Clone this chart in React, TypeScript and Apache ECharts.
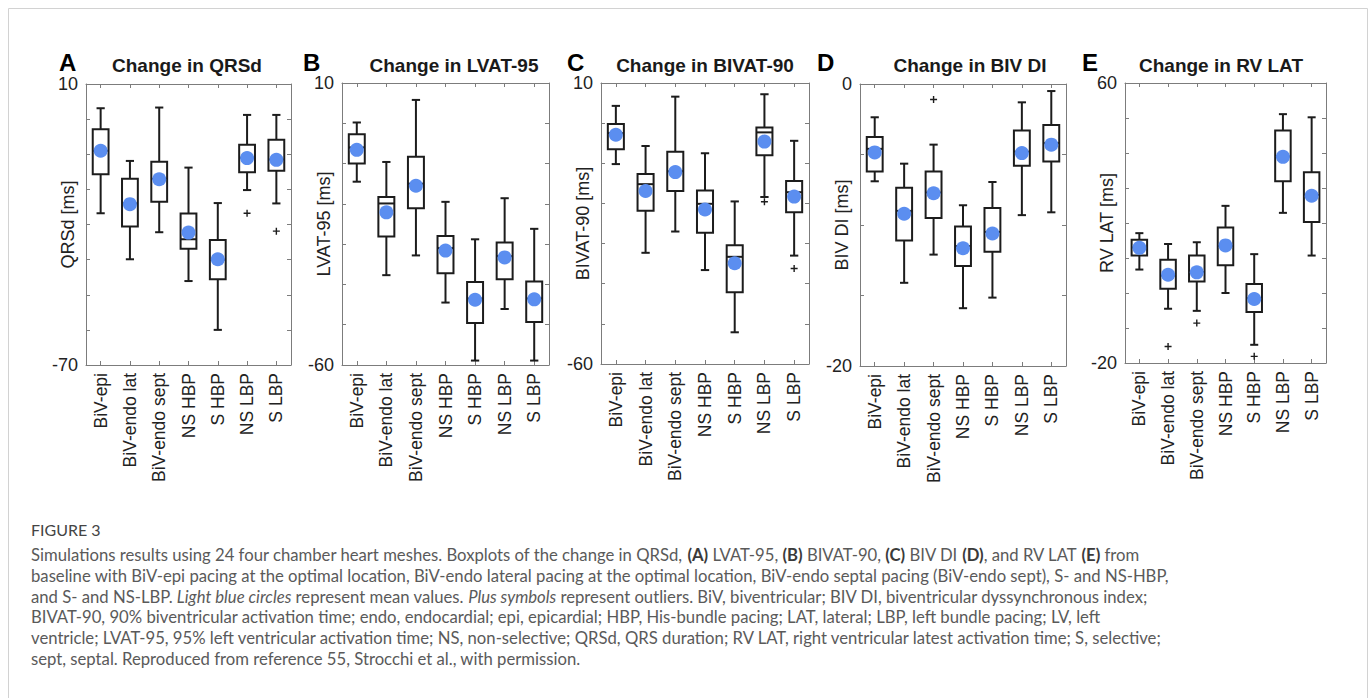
import React, { useEffect, useRef } from "react";
import * as echarts from "echarts";

// ---------------- DATA ----------------
const categories = ["BiV-epi", "BiV-endo lat", "BiV-endo sept", "NS HBP", "S HBP", "NS LBP", "S LBP"];

// each entry: [whisker low, Q1, median, Q3, whisker high]
const qrsdBox = [
  [-26.8, -15.7, -9.0, -2.9, 3.1],
  [-39.9, -30.6, -24.0, -17.0, -11.9],
  [-32.2, -23.5, -17.0, -12.1, 3.3],
  [-46.1, -36.9, -34.2, -26.9, -13.8],
  [-60.0, -45.6, -40.0, -34.4, -23.9],
  [-20.2, -15.1, -11.0, -7.3, 1.2],
  [-24.0, -14.7, -11.5, -5.9, 1.2],
];
const qrsdMean = [-9.0, -24.2, -17.1, -32.3, -39.9, -11.1, -11.6];
const qrsdOutliers = [[5, -26.8], [6, -31.9]];

const lvatBox = [
  [-14.5, -10.0, -6.0, -2.7, 0.2],
  [-37.7, -28.1, -19.9, -18.3, -9.6],
  [-32.8, -21.1, -15.0, -8.3, 5.8],
  [-44.5, -37.2, -31.0, -28.0, -19.5],
  [-58.9, -49.6, -43.5, -39.4, -28.8],
  [-46.1, -38.7, -33.0, -29.6, -18.6],
  [-58.9, -49.3, -43.5, -39.3, -26.2],
];
const lvatMean = [-6.6, -22.1, -15.5, -31.6, -43.8, -33.3, -43.7];
const lvatOutliers: number[][] = [];

const bivatBox = [
  [-10.2, -6.5, -2.5, -0.2, 4.3],
  [-32.3, -21.8, -15.2, -12.7, -5.7],
  [-27.0, -16.9, -12.0, -7.1, 6.6],
  [-36.6, -27.3, -20.1, -16.8, -7.5],
  [-52.1, -42.1, -33.3, -30.4, -19.5],
  [-18.4, -8.0, -2.3, -1.1, 7.2],
  [-33.0, -22.2, -17.2, -14.4, -4.4],
];
const bivatMean = [-2.9, -16.9, -12.2, -21.5, -34.9, -4.6, -18.3];
const bivatOutliers = [[5, -19.6], [6, -36.2]];

const bivdiBox = [
  [-6.9, -6.2, -4.6, -3.76, -2.36],
  [-14.1, -11.1, -9.0, -7.35, -5.65],
  [-12.1, -9.5, -7.7, -6.2, -4.3],
  [-15.9, -12.9, -11.5, -10.1, -8.6],
  [-15.15, -11.9, -10.5, -8.8, -6.95],
  [-9.3, -5.8, -4.8, -3.3, -1.3],
  [-9.1, -5.5, -4.2, -2.9, -0.5],
];
const bivdiMean = [-4.85, -9.2, -7.75, -11.65, -10.6, -4.9, -4.3];
const bivdiOutliers = [[2, -1.1]];

const rvlatBox = [
  [6.7, 10.7, 13.0, 15.2, 17.1],
  [-4.5, 1.2, 5.0, 9.5, 14.0],
  [-5.1, 3.3, 6.0, 10.7, 14.5],
  [0.0, 7.9, 13.5, 18.7, 24.9],
  [-14.8, -5.4, -1.5, 2.6, 11.1],
  [22.9, 31.9, 39.0, 46.4, 51.1],
  [10.7, 20.3, 28.0, 34.5, 50.2],
];
const rvlatMean = [12.9, 5.2, 5.9, 13.6, -1.7, 38.9, 27.8];
const rvlatOutliers = [[1, -15.3], [2, -8.6], [4, -18.1]];

const letters = ["A", "B", "C", "D", "E"];
const titles = ["Change in QRSd", "Change in LVAT-95", "Change in BIVAT-90", "Change in BIV DI", "Change in RV LAT"];
const yNames = ["QRSd [ms]", "LVAT-95 [ms]", "BIVAT-90 [ms]", "BIV DI [ms]", "RV LAT [ms]"];
const yMins = [-70, -60, -60, -20, -20];
const yMaxs = [10, 10, 10, 0, 60];
const yIntervals = [10, 10, 10, 5, 10];
const boxes = [qrsdBox, lvatBox, bivatBox, bivdiBox, rvlatBox];
const means = [qrsdMean, lvatMean, bivatMean, bivdiMean, rvlatMean];
const outliers = [qrsdOutliers, lvatOutliers, bivatOutliers, bivdiOutliers, rvlatOutliers];

const captionHeading = "FIGURE 3";
const captionLines = [
  "Simulations results using 24 four chamber heart meshes. Boxplots of the change in QRSd, {b|(A)} LVAT-95, {b|(B)} BIVAT-90, {b|(C)} BIV DI {b|(D)}, and RV LAT {b|(E)} from",
  "baseline with BiV-epi pacing at the optimal location, BiV-endo lateral pacing at the optimal location, BiV-endo septal pacing (BiV-endo sept), S- and NS-HBP,",
  "and S- and NS-LBP. {i|Light blue circles} represent mean values. {i|Plus symbols} represent outliers. BiV, biventricular; BIV DI, biventricular dyssynchronous index;",
  "BIVAT-90, 90% biventricular activation time; endo, endocardial; epi, epicardial; HBP, His-bundle pacing; LAT, lateral; LBP, left bundle pacing; LV, left",
  "ventricle; LVAT-95, 95% left ventricular activation time; NS, non-selective; QRSd, QRS duration; RV LAT, right ventricular latest activation time; S, selective;",
  "sept, septal. Reproduced from reference 55, Strocchi et al., with permission.",
];

// ---------------- LAYOUT ----------------
const gridRects = [
  [86, 84, 205, 281],
  [342, 83, 207, 282],
  [601, 83, 208, 281],
  [860, 84, 206, 282],
  [1125, 83, 201, 280],
];
const letterPos = [[59, 62], [303, 62], [567, 62], [817, 62], [1082, 62]];
const titleCenters = [187, 454, 705, 970, 1221];

const FONT = "'Liberation Sans', Arial, Helvetica, sans-serif";
const CAP_FONT = "Lato, 'Open Sans', sans-serif";
const AXIS_GRAY = "#7c7c7c";
const INK = "#1c1c1c";
const MEAN_BLUE = "#5b8ef0";
const PLUS = "path://M-0.6,-3H0.6V-0.6H3V0.6H0.6V3H-0.6V0.6H-3V-0.6H-0.6Z";

const renderBox = (params: any, api: any) => {
  const k = api.value(0);
  const lo = api.coord([k, api.value(1)]);
  const q1 = api.coord([k, api.value(2)]);
  const md = api.coord([k, api.value(3)]);
  const q3 = api.coord([k, api.value(4)]);
  const hi = api.coord([k, api.value(5)]);
  const band = api.size([1, 0])[0];
  const bw = band * 0.54;
  const cw = band * 0.28;
  const cx = lo[0];
  const st = { stroke: INK, lineWidth: 2, fill: null };
  return {
    type: "group",
    children: [
      { type: "line", shape: { x1: cx, y1: hi[1], x2: cx, y2: q3[1] }, style: st },
      { type: "line", shape: { x1: cx, y1: q1[1], x2: cx, y2: lo[1] }, style: st },
      { type: "line", shape: { x1: cx - cw / 2, y1: hi[1], x2: cx + cw / 2, y2: hi[1] }, style: st },
      { type: "line", shape: { x1: cx - cw / 2, y1: lo[1], x2: cx + cw / 2, y2: lo[1] }, style: st },
      { type: "rect", shape: { x: cx - bw / 2, y: q3[1], width: bw, height: q1[1] - q3[1] }, style: { stroke: INK, lineWidth: 2, fill: "#ffffff" } },
      { type: "line", shape: { x1: cx - bw / 2, y1: md[1], x2: cx + bw / 2, y2: md[1] }, style: st },
    ],
  };
};

function buildOption() {
  const grid: any[] = [];
  const xAxis: any[] = [];
  const yAxis: any[] = [];
  const series: any[] = [];
  const graphic: any[] = [];

  graphic.push({
    type: "rect",
    silent: true,
    shape: { x: 8.5, y: 8.5, width: 1359, height: 760 },
    style: { fill: "none", stroke: "#d2d2d2", lineWidth: 1 },
  });

  for (let i = 0; i < 5; i++) {
    const r = gridRects[i];
    grid.push({ left: r[0], top: r[1], width: r[2], height: r[3], containLabel: false });
    const lineCommon = { show: true, onZero: false, lineStyle: { color: AXIS_GRAY, width: 1 } };
    const tickCommon = { show: true, inside: true, length: 4, lineStyle: { color: AXIS_GRAY, width: 1 } };
    xAxis.push({
      type: "category",
      gridIndex: i,
      data: categories,
      position: "bottom",
      boundaryGap: true,
      axisLine: lineCommon,
      axisTick: { ...tickCommon, alignWithLabel: true, interval: 0 },
      axisLabel: { rotate: 90, interval: 0, fontSize: 17.5, color: "#222", fontFamily: FONT, margin: 8 },
      splitLine: { show: false },
    });
    xAxis.push({
      type: "category",
      gridIndex: i,
      data: categories,
      position: "top",
      boundaryGap: true,
      axisLine: lineCommon,
      axisTick: { ...tickCommon, alignWithLabel: true, interval: 0 },
      axisLabel: { show: false },
      splitLine: { show: false },
    });
    const mn = yMins[i];
    const mx = yMaxs[i];
    yAxis.push({
      type: "value",
      gridIndex: i,
      position: "left",
      min: mn,
      max: mx,
      interval: yIntervals[i],
      name: yNames[i],
      nameLocation: "middle",
      nameGap: 9,
      nameMoveOverlap: false,
      nameTextStyle: { fontSize: 18, color: "#222", fontFamily: FONT },
      axisLine: lineCommon,
      axisTick: tickCommon,
      axisLabel: {
        fontSize: 18,
        color: "#222",
        fontFamily: FONT,
        margin: 8,
        showMinLabel: true,
        showMaxLabel: true,
        formatter: (v: number) => (v === mn || v === mx ? String(v) : ""),
      },
      splitLine: { show: false },
    });
    yAxis.push({
      type: "value",
      gridIndex: i,
      position: "right",
      min: mn,
      max: mx,
      interval: yIntervals[i],
      axisLine: lineCommon,
      axisTick: tickCommon,
      axisLabel: { show: false },
      splitLine: { show: false },
    });

    series.push({
      type: "custom",
      xAxisIndex: i * 2,
      yAxisIndex: i * 2,
      renderItem: renderBox,
      encode: { x: 0, y: [1, 2, 3, 4, 5] },
      data: boxes[i].map((b, k) => [k, ...b]),
      z: 2,
    });
    series.push({
      type: "scatter",
      xAxisIndex: i * 2,
      yAxisIndex: i * 2,
      symbol: "circle",
      symbolSize: 14,
      itemStyle: { color: MEAN_BLUE, opacity: 1 },
      data: means[i].map((m, k) => [k, m]),
      z: 3,
    });
    if (outliers[i].length) {
      series.push({
        type: "scatter",
        xAxisIndex: i * 2,
        yAxisIndex: i * 2,
        symbol: PLUS,
        symbolSize: 7,
        itemStyle: { color: INK, opacity: 1 },
        data: outliers[i],
        z: 3,
      });
    }

    graphic.push({
      type: "text",
      silent: true,
      style: {
        text: letters[i],
        x: letterPos[i][0],
        y: letterPos[i][1],
        verticalAlign: "middle",
        align: "left",
        font: `bold 24px ${FONT}`,
        fill: "#000",
      },
    });
    graphic.push({
      type: "text",
      silent: true,
      style: {
        text: titles[i],
        x: titleCenters[i],
        y: 65,
        verticalAlign: "middle",
        align: "center",
        font: `bold 19px ${FONT}`,
        fill: "#1a1a1a",
      },
    });
  }

  graphic.push({
    type: "text",
    silent: true,
    style: {
      text: captionHeading,
      x: 31,
      y: 529,
      verticalAlign: "middle",
      align: "left",
      font: `16px ${CAP_FONT}`,
      fill: "#444",
    },
  });
  const capBase = { fontFamily: CAP_FONT, fontSize: 16.7, fill: "#5a5a5a" };
  captionLines.forEach((line, j) => {
    graphic.push({
      type: "text",
      silent: true,
      style: {
        text: line,
        x: 31,
        y: 555 + j * 20.8,
        verticalAlign: "middle",
        align: "left",
        ...capBase,
        rich: {
          b: { ...capBase, fontWeight: "bold", fill: "#3a3a3a" },
          i: { ...capBase, fontStyle: "italic" },
        },
      },
    });
  });

  return {
    animation: false,
    backgroundColor: "#ffffff",
    grid,
    xAxis,
    yAxis,
    series,
    graphic,
  };
}

export default function App() {
  const ref = useRef<HTMLDivElement>(null);
  useEffect(() => {
    if (!ref.current) return;
    const chart = echarts.init(ref.current, undefined, { renderer: "svg" });
    chart.setOption(buildOption() as any);
    return () => chart.dispose();
  }, []);
  return (
    <div
      ref={ref}
      style={{ position: "fixed", left: 0, top: 0, width: 1372, height: 698, background: "#fff" }}
    />
  );
}
